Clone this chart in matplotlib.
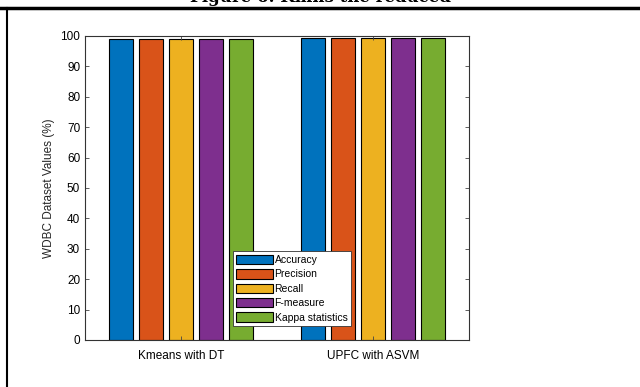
'''
Grouped bar chart of WDBC dataset metrics
'''

import numpy             as np
import matplotlib.pyplot as plt
from   matplotlib.lines  import Line2D

plt.rcParams['font.family'] = ['Liberation Sans', 'DejaVu Sans']

# Data
methods  = ['Kmeans with DT', 'UPFC with ASVM']
metrics  = ['Accuracy', 'Precision', 'Recall', 'F-measure', 'Kappa statistics']
accuracy  = [99.1, 99.2]
precision = [98.9, 99.2]
recall    = [99.0, 99.5]
fmeasure  = [99.0, 99.3]
kappa     = [98.9, 99.5]
yticks    = list(range(0, 101, 10))

colors = ['#0072BD', '#D95319', '#EDB120', '#7E2F8E', '#77AC30']

fig = plt.figure(figsize=(6.4, 3.87), dpi=100)
ax  = fig.add_axes([85/640, 1 - 340/387, 384/640, 304/387])

# Bars
x      = np.arange(1, len(methods) + 1)
step   = 0.156
width  = 0.125
series = [accuracy, precision, recall, fmeasure, kappa]
for i, (vals, name) in enumerate(zip(series, metrics)):
    ax.bar(x + (i - 2) * step, vals, width, color=colors[i],
           edgecolor='black', linewidth=0.8, label=name)

# Axes styling (MATLAB-like)
ax.set_xlim(0.5, 2.5)
ax.set_ylim(0, 100)
ax.set_xticks(x)
ax.set_xticklabels(methods, fontsize=8.5)
ax.set_yticks(yticks)
ax.tick_params(axis='y', labelsize=8.5)
ax.tick_params(axis='x', pad=7)
ax.tick_params(direction='in', top=True, right=True, length=3, width=0.6, color='#444444')
for s in ax.spines.values():
    s.set_linewidth(0.8)
    s.set_color('#333333')
ax.set_ylabel('WDBC Dataset Values (%)', fontsize=8.5, color='#262626')

leg = ax.legend(loc='lower left', bbox_to_anchor=(0.385, 0.045), fontsize=7.5,
                fancybox=False, framealpha=1, edgecolor='#333333',
                handlelength=3.5, handleheight=1.0, handletextpad=0.15,
                labelspacing=0.4, borderpad=0.35, borderaxespad=0)
leg.get_frame().set_linewidth(0.6)

# Page frame and cut-off caption
fig.add_artist(Line2D([0, 1], [1 - 7.5/387, 1 - 7.5/387], color='black', linewidth=2.5))
fig.add_artist(Line2D([7/640, 7/640], [0, 1 - 7.5/387], color='black', linewidth=1.5))
fig.text(0.5, 1 + 2/387, 'Figure 6: Kmns the reduced', ha='center', va='center',
         family='DejaVu Serif', fontweight='bold', fontsize=12)

fig.savefig('out.png', dpi=100)
